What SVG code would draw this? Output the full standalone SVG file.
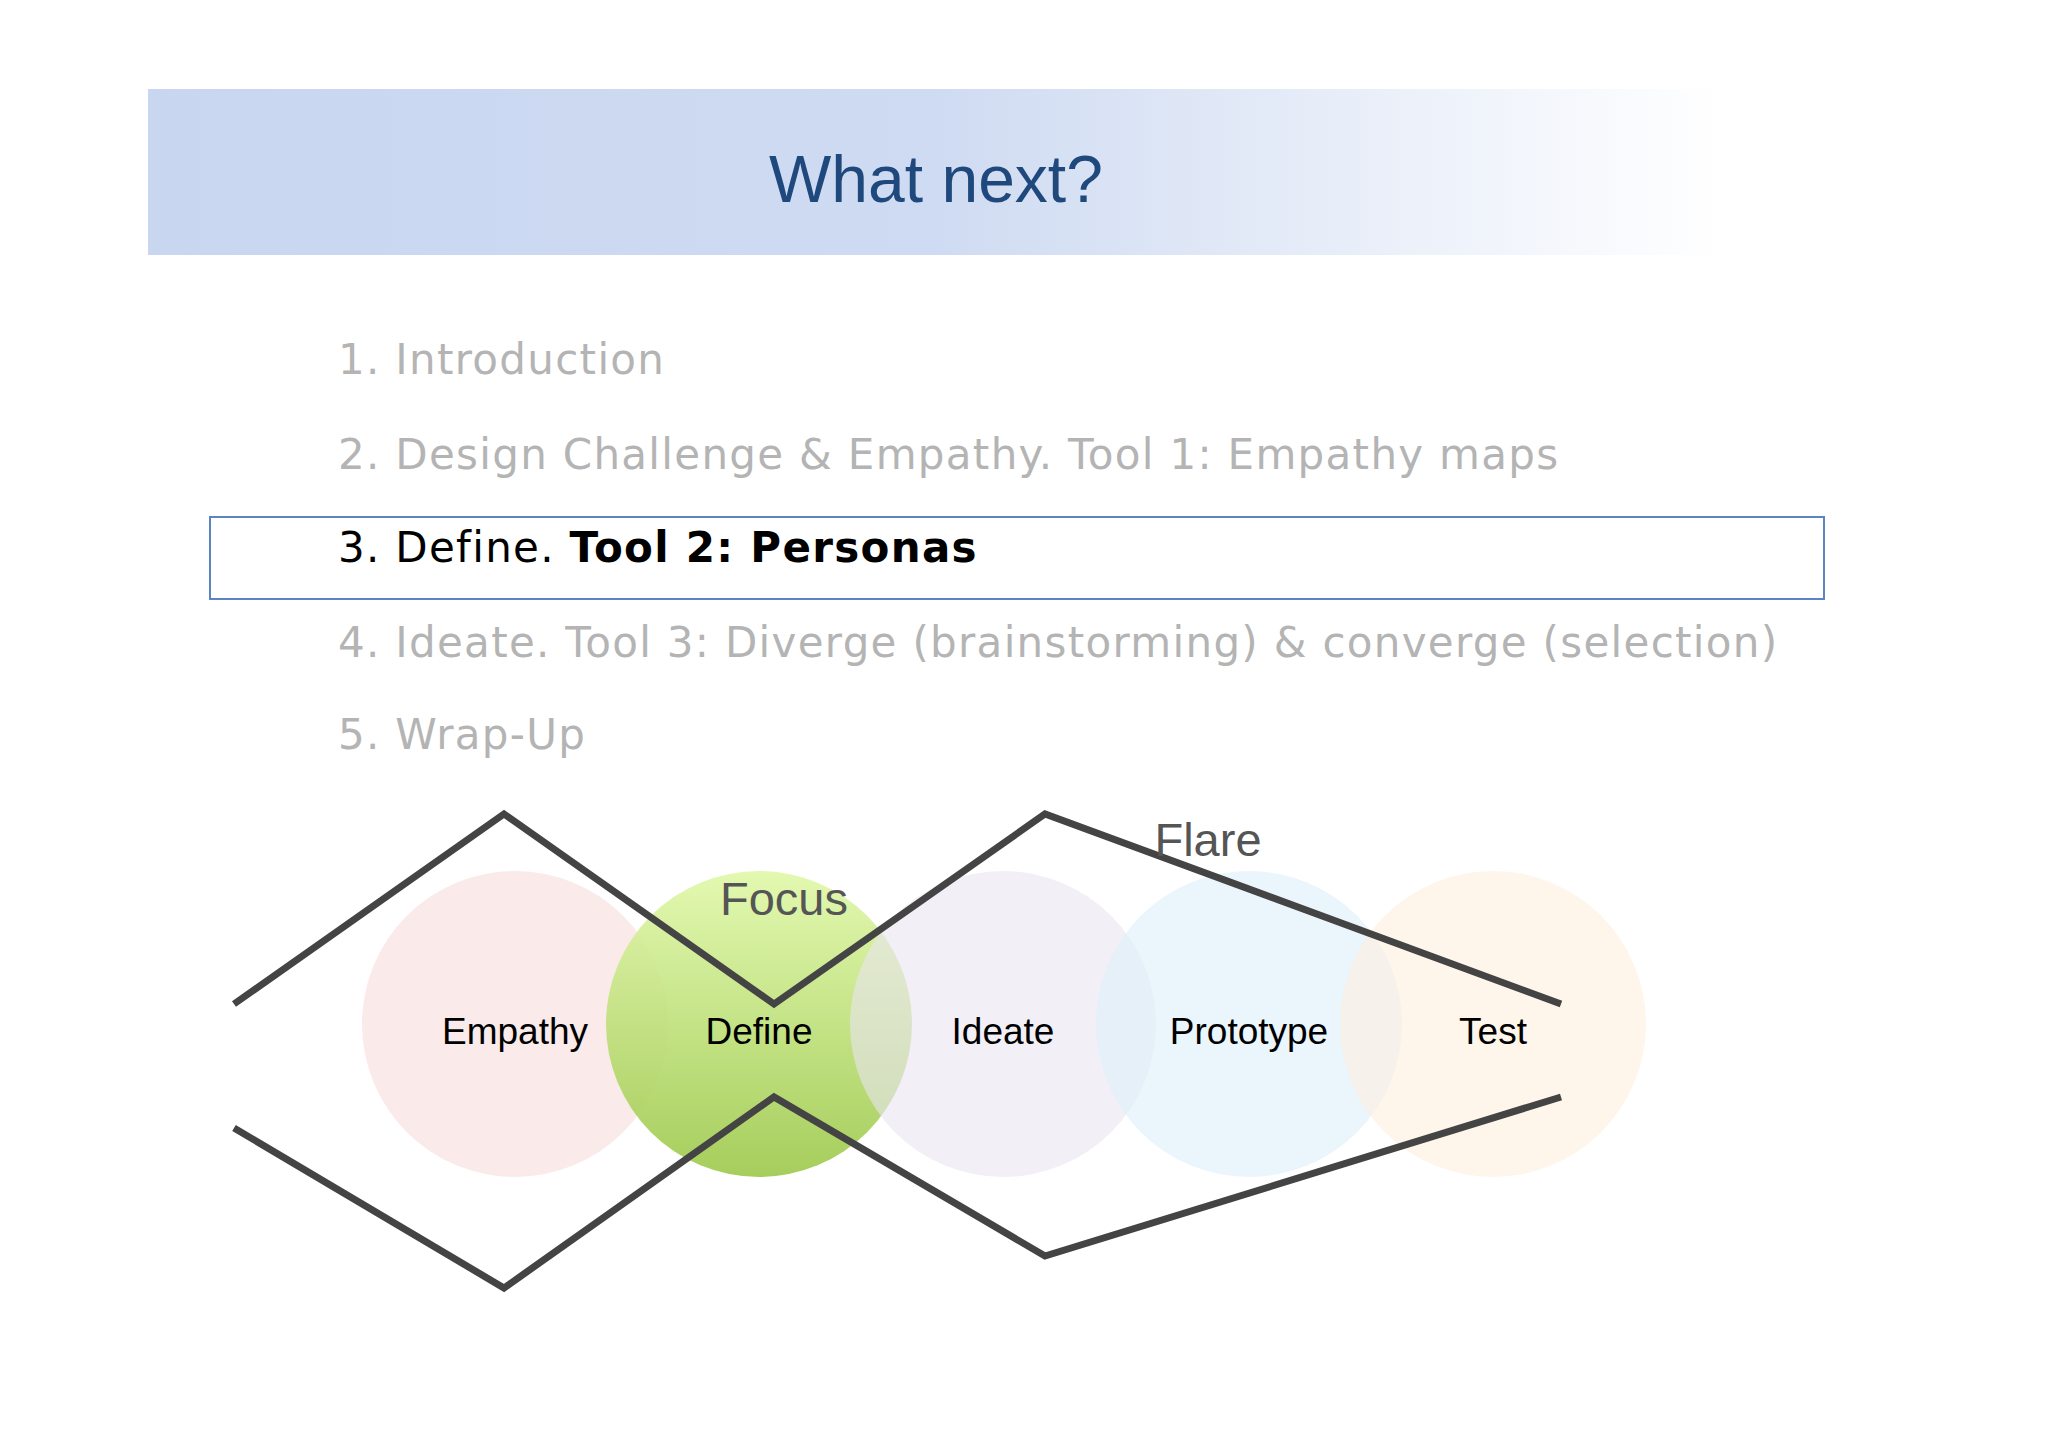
<svg xmlns="http://www.w3.org/2000/svg" width="2048" height="1447" viewBox="0 0 2048 1447">
<defs>
<linearGradient id="hdr" x1="0" y1="0" x2="1" y2="0">
<stop offset="0" stop-color="#c8d6f0"/><stop offset="0.5" stop-color="#cfdbf2"/><stop offset="1" stop-color="#ffffff"/>
</linearGradient>
<linearGradient id="grn" x1="0" y1="0" x2="0" y2="1">
<stop offset="0" stop-color="#e0f8a8"/><stop offset="1" stop-color="#9cc84a"/>
</linearGradient>
<style>
.li{font-family:"DejaVu Sans",sans-serif;font-size:42px;fill:#b4b4b4;letter-spacing:1.3px}
.lb{font-family:"Liberation Sans",Carlito,sans-serif;font-size:37px;fill:#000;text-anchor:middle}
.zz{fill:none;stroke:#444;stroke-width:7;stroke-linejoin:miter}
.fl{font-family:"Liberation Sans",sans-serif;font-size:47px;fill:#555;text-anchor:middle}
</style>
</defs>
<rect width="2048" height="1447" fill="#fff"/>
<rect x="148" y="89" width="1576" height="166" fill="url(#hdr)"/>
<text x="936" y="202" font-family="Liberation Sans,sans-serif" font-size="66" fill="#1f497d" text-anchor="middle">What next?</text>
<g id="list">
<text class="li" x="338" y="374">1.  Introduction</text>
<text class="li" x="338" y="469">2.  Design Challenge &amp; Empathy. Tool 1: Empathy maps</text>
<rect x="210" y="517" width="1614" height="82" fill="none" stroke="#5b84c4" stroke-width="2"/>
<text class="li" x="338" y="562" style="fill:#000">3.  Define. <tspan font-weight="bold">Tool 2: Personas</tspan></text>
<text class="li" x="338" y="657">4.  Ideate. Tool 3: Diverge (brainstorming) &amp; converge (selection)</text>
<text class="li" x="338" y="749">5.  Wrap-Up</text>
</g>
<g id="empathy"><circle cx="515" cy="1024" r="153" fill="#f8e1e1" opacity="0.7"/><text class="lb" x="515" y="1044">Empathy</text></g>
<g id="define"><circle cx="759" cy="1024" r="153" fill="url(#grn)" opacity="0.9"/><text class="lb" x="759" y="1044">Define</text></g>
<g id="ideate"><circle cx="1003" cy="1024" r="153" fill="#e9e5f2" opacity="0.6"/><text class="lb" x="1003" y="1044">Ideate</text></g>
<g id="prototype"><circle cx="1249" cy="1024" r="153" fill="#dcf0fa" opacity="0.6"/><text class="lb" x="1249" y="1044">Prototype</text></g>
<g id="test"><circle cx="1493" cy="1024" r="153" fill="#fdeedd" opacity="0.6"/><text class="lb" x="1493" y="1044">Test</text></g>
<g id="connectors">
<polyline class="zz" points="234,1004 504,814 774,1004 1045,814 1561,1004"/>
<polyline class="zz" points="234,1128 504,1288 774,1097 1045,1256 1561,1097"/>
</g>
<text class="fl" x="784" y="915">Focus</text>
<text class="fl" x="1208" y="856">Flare</text>
</svg>
